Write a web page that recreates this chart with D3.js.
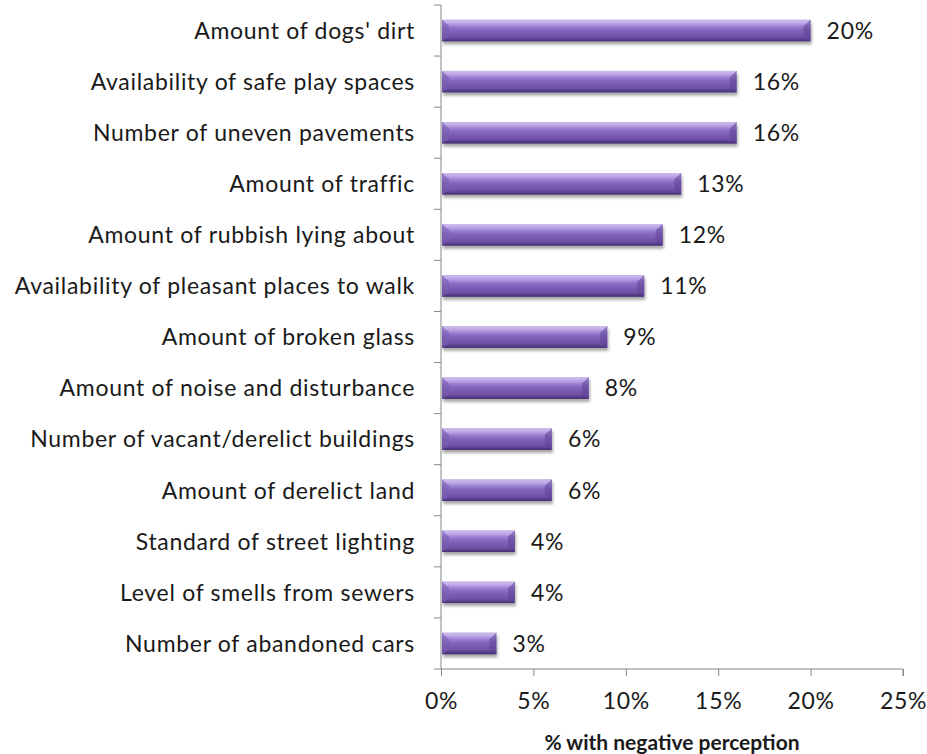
<!DOCTYPE html>
<html>
<head>
<meta charset="utf-8">
<script src="https://cdn.jsdelivr.net/npm/d3@7"></script>
<style>
  html, body { margin: 0; padding: 0; background: #fff; }
  svg { display: block; font-family: Lato, "Open Sans", sans-serif; }
</style>
</head>
<body>
<svg id="chart" width="927" height="754"></svg>
<script>
// Share of respondents with a negative perception of each local issue
const categories = [
  "Amount of dogs' dirt",
  "Availability of safe play spaces",
  "Number of uneven pavements",
  "Amount of traffic",
  "Amount of rubbish lying about",
  "Availability of pleasant places to walk",
  "Amount of broken glass",
  "Amount of noise and disturbance",
  "Number of vacant/derelict buildings",
  "Amount of derelict land",
  "Standard of street lighting",
  "Level of smells from sewers",
  "Number of abandoned cars"
];
const values = [20, 16, 16, 13, 12, 11, 9, 8, 6, 6, 4, 4, 3];
const xTicks = [0, 5, 10, 15, 20, 25];
const axisTitle = "% with negative perception";

const svg = d3.select("#chart");
const margin = { left: 441, right: 24, top: 5, bottom: 85 };
const W = 927, H = 754;
const textColor = "#1a1a1a";
const fontSize = 23;
const spacing = "0.7px";

const x = d3.scaleLinear().domain([0, 25]).range([margin.left, W - margin.right]);
const y = d3.scaleBand().domain(categories).range([margin.top, H - margin.bottom]).paddingInner(0.58).paddingOuter(0.29);

const defs = svg.append("defs");
const body = defs.append("linearGradient").attr("id", "barBody").attr("x1", 0).attr("y1", 0).attr("x2", 0).attr("y2", 1);
[[0, "#8f72c6"], [0.12, "#c1adea"], [0.25, "#a58ad9"], [0.45, "#8667be"], [0.8, "#6f51a6"], [1, "#4e3680"]]
  .forEach(([o, c]) => body.append("stop").attr("offset", o).attr("stop-color", c));
const bevelTop = defs.append("linearGradient").attr("id", "bevelTop").attr("x1", 0).attr("y1", 0).attr("x2", 0).attr("y2", 1);
[[0, "#d6c8f3"], [1, "#a58ad9"]].forEach(([o, c]) => bevelTop.append("stop").attr("offset", o).attr("stop-color", c));
const bevelBot = defs.append("linearGradient").attr("id", "bevelBot").attr("x1", 0).attr("y1", 0).attr("x2", 0).attr("y2", 1);
[[0, "#6f51a6"], [1, "#3f2a6b"]].forEach(([o, c]) => bevelBot.append("stop").attr("offset", o).attr("stop-color", c));
const shadow = defs.append("filter").attr("id", "shadow").attr("x", "-10%").attr("y", "-50%").attr("width", "120%").attr("height", "220%");
shadow.append("feGaussianBlur").attr("in", "SourceAlpha").attr("stdDeviation", 1.8);
shadow.append("feOffset").attr("dx", 1).attr("dy", 3).attr("result", "b");
shadow.append("feComponentTransfer").append("feFuncA").attr("type", "linear").attr("slope", 0.35);
const merge = shadow.append("feMerge");
merge.append("feMergeNode");
merge.append("feMergeNode").attr("in", "SourceGraphic");

// Bars with bevelled ends
const bars = svg.append("g").selectAll("g.bar").data(categories).join("g")
  .attr("class", "bar")
  .attr("filter", "url(#shadow)");
bars.each(function (c, i) {
  const g = d3.select(this);
  const x0 = x(0) + 1, x1 = x(values[i]);
  const y0 = y(c), h = y.bandwidth(), y1 = y0 + h;
  const bv = Math.min(7, (x1 - x0) / 3);
  g.append("rect").attr("x", x0).attr("y", y0).attr("width", x1 - x0).attr("height", h).attr("fill", "url(#barBody)");
  g.append("path").attr("d", `M${x0},${y0}L${x0 + bv},${y0 + 6}L${x0 + bv},${y1 - 4}L${x0},${y1}Z`).attr("fill", "#7a5cb3").attr("opacity", 0.6);
  g.append("path").attr("d", `M${x1},${y0}L${x1 - bv},${y0 + 6}L${x1 - bv},${y1 - 4}L${x1},${y1}Z`).attr("fill", "#5c4393").attr("opacity", 0.55);
  g.append("path").attr("d", `M${x0},${y0}L${x1},${y0}L${x1 - bv},${y0 + 6}L${x0 + bv},${y0 + 6}Z`).attr("fill", "url(#bevelTop)").attr("opacity", 0.85);
  g.append("path").attr("d", `M${x0},${y1}L${x1},${y1}L${x1 - bv},${y1 - 4}L${x0 + bv},${y1 - 4}Z`).attr("fill", "url(#bevelBot)").attr("opacity", 0.8);
});

// Value labels
svg.append("g").selectAll("text").data(categories).join("text")
  .attr("x", (c, i) => x(values[i]) + 16)
  .attr("y", c => y(c) + y.bandwidth() / 2)
  .attr("dy", "0.36em")
  .attr("font-size", fontSize)
  .attr("letter-spacing", spacing)
  .attr("fill", textColor)
  .text((c, i) => values[i] + "%");

// Category axis with ticks between categories
const axisColor = "#868686";
const yAxisG = svg.append("g");
yAxisG.append("line").attr("x1", x(0)).attr("x2", x(0)).attr("y1", margin.top).attr("y2", H - margin.bottom).attr("stroke", axisColor);
const boundaries = d3.range(categories.length + 1).map(i => margin.top + (H - margin.bottom - margin.top) * i / categories.length);
yAxisG.selectAll("line.t").data(boundaries).join("line").attr("class", "t")
  .attr("x1", x(0) - 7).attr("x2", x(0)).attr("y1", d => d).attr("y2", d => d).attr("stroke", axisColor);
yAxisG.selectAll("text").data(categories).join("text")
  .attr("x", x(0) - 26)
  .attr("y", c => y(c) + y.bandwidth() / 2)
  .attr("dy", "0.36em")
  .attr("text-anchor", "end")
  .attr("font-size", fontSize)
  .attr("letter-spacing", spacing)
  .attr("fill", textColor)
  .text(c => c);

// Value axis
const xAxis = d3.axisBottom(x).tickValues(xTicks).tickFormat(d => d + "%").tickSize(7).tickPadding(17);
const xg = svg.append("g").attr("transform", `translate(0,${H - margin.bottom})`).call(xAxis);
xg.select(".domain").attr("stroke", axisColor).attr("d", `M${x(0)},0H${x(25)}V7`);
xg.selectAll(".tick line").attr("stroke", axisColor);
xg.selectAll(".tick text").attr("font-size", fontSize).attr("letter-spacing", spacing).attr("fill", textColor)
  .attr("font-family", "Lato, 'Open Sans', sans-serif");

svg.append("text")
  .attr("x", (x(0) + x(25)) / 2)
  .attr("y", 750)
  .attr("text-anchor", "middle")
  .attr("font-size", 21)
  .attr("font-weight", "bold")
  .attr("fill", textColor)
  .text(axisTitle);
</script>
</body>
</html>
